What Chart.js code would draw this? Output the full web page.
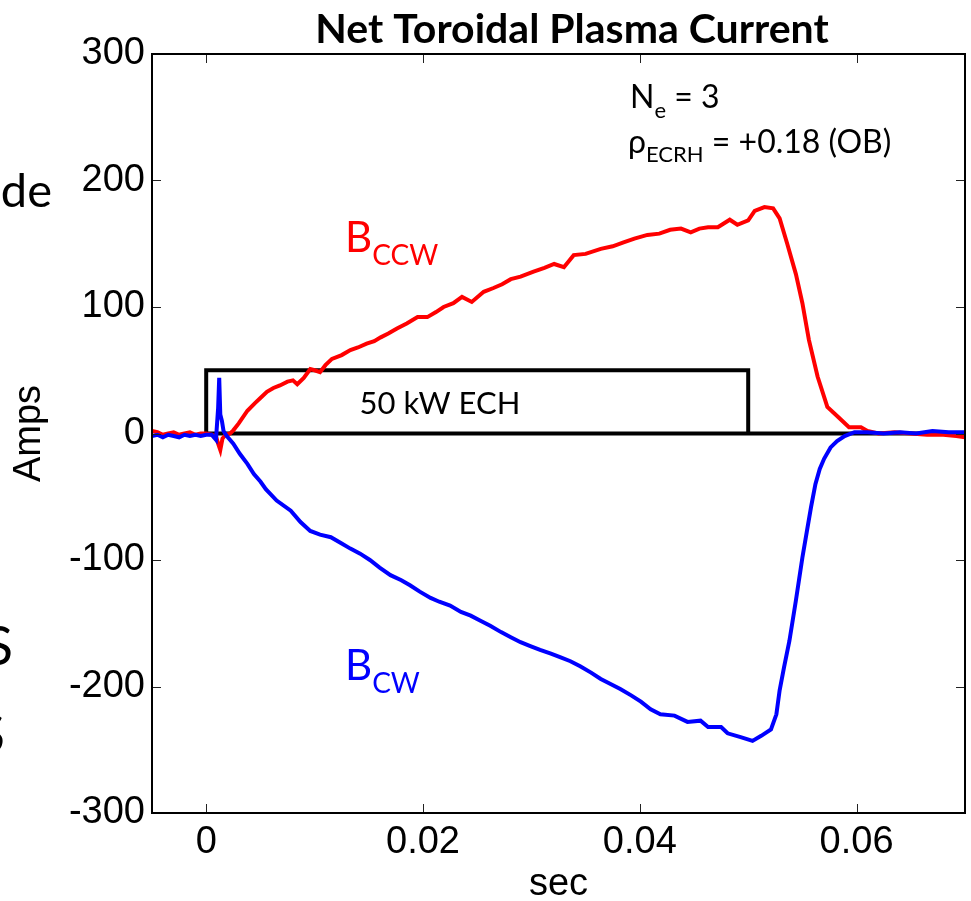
<!DOCTYPE html>
<html>
<head>
<meta charset="utf-8">
<title>Net Toroidal Plasma Current</title>
<script src="https://cdn.jsdelivr.net/npm/chart.js"></script>
<style>
    body { margin: 0; background: #ffffff; }
    canvas { display: block; }
</style>
</head>
<body>
<canvas id="currentChart" width="971" height="901"></canvas>
<script>
// tick values
const xTicks = [0, 0.02, 0.04, 0.06];
const yTicks = [-300, -200, -100, 0, 100, 200, 300];

// B_CCW shot (red)
const ccwTime = [-0.005, -0.0045, -0.004, -0.0035, -0.003, -0.0025, -0.002, -0.0015, -0.001, -0.0005,
    0, 0.0005, 0.0009, 0.0011, 0.0013, 0.0015, 0.0018, 0.0022, 0.0025, 0.003,
    0.0038, 0.0045, 0.005, 0.0056, 0.0062, 0.0068, 0.0075, 0.008, 0.0084, 0.009,
    0.0096, 0.01, 0.0105, 0.011, 0.0116, 0.0125, 0.0133, 0.014, 0.0148, 0.0155,
    0.0161, 0.0168, 0.0176, 0.0185, 0.0195, 0.0204, 0.0212, 0.0219, 0.0228, 0.0236,
    0.0245, 0.0256, 0.0265, 0.0273, 0.0281, 0.029, 0.0302, 0.0312, 0.0321, 0.033,
    0.0339, 0.035, 0.0364, 0.0375, 0.0385, 0.0395, 0.0407, 0.0418, 0.0428, 0.0438,
    0.0447, 0.0455, 0.0463, 0.0472, 0.0483, 0.049, 0.05, 0.0506, 0.0515, 0.0523,
    0.0529, 0.0536, 0.0544, 0.055, 0.0556, 0.0564, 0.0573, 0.0583, 0.0593, 0.0604,
    0.061, 0.062, 0.0635, 0.065, 0.0665, 0.068, 0.0692, 0.07];
const ccwAmps = [2, 1, -1, 0, 1, -1, 0, 1, -1, 0,
    0, -1, -2, -8, -13, -4, -1, 0, 2.5, 8,
    18, 24, 28, 33, 36, 38, 41, 42, 39, 44,
    51, 50, 48.5, 54, 59, 62, 66, 68, 71, 73,
    76, 79, 83, 87, 92, 92, 96, 100, 103, 108,
    104, 112, 115, 118, 122, 124, 128, 131, 134, 131.5,
    141, 142, 146, 148, 151, 154, 157, 158, 161, 162,
    159, 162, 163, 163, 169, 165, 168.5, 176, 179, 178,
    170, 150, 126, 103, 74, 45, 21, 13, 5, 5,
    2, 0, 1, 0, -1, -1, -2, -3];

// B_CW shot (blue)
const cwTime = [-0.005, -0.0045, -0.004, -0.0035, -0.003, -0.0025, -0.002, -0.0015, -0.001, -0.0005,
    0, 0.0005, 0.0009, 0.0011, 0.0012, 0.0013, 0.00145, 0.0016, 0.0019, 0.0025,
    0.0031, 0.0038, 0.0044, 0.005, 0.0055, 0.0065, 0.0078, 0.0087, 0.0096, 0.0105,
    0.0115, 0.0125, 0.0133, 0.0142, 0.0151, 0.016, 0.017, 0.018, 0.0188, 0.0197,
    0.0207, 0.0215, 0.0225, 0.0235, 0.0244, 0.0253, 0.0262, 0.0272, 0.0281, 0.029,
    0.0299, 0.0308, 0.0318, 0.0327, 0.0336, 0.0345, 0.0355, 0.0364, 0.0373, 0.0382,
    0.0392, 0.0401, 0.041, 0.0419, 0.0432, 0.0444, 0.0456, 0.0463, 0.0475, 0.0481,
    0.0493, 0.0504, 0.0512, 0.0521, 0.0526, 0.0529, 0.0533, 0.0538, 0.0541, 0.0544,
    0.0547, 0.055, 0.0554, 0.0558, 0.0562, 0.0566, 0.057, 0.0576, 0.0582, 0.0589,
    0.0598, 0.061, 0.0625, 0.064, 0.0655, 0.067, 0.0685, 0.07];
const cwAmps = [-2, -1, -3, -1, -2, -3, -1, -2, -1, -2,
    -1, -1, -5, 20, 44, 15, 10, 2, -2, -8,
    -16, -24, -32, -38, -44, -53, -61, -70, -77, -80,
    -82, -87, -91, -95, -100, -106, -112, -116, -120, -125,
    -130, -133, -136, -141, -144, -148, -152, -157, -161, -165,
    -168, -171, -174, -177, -180, -184, -189, -194, -198, -202,
    -207, -212, -218, -222, -223, -228, -227, -232, -232, -237,
    -240, -243, -239, -234, -222, -203, -185, -164, -148, -132,
    -115, -98, -78, -58, -40, -28, -20, -11, -6, -2,
    1, 1, 0, 1, 0, 2, 1, 1];

// ECH pulse outline (50 kW from 0 to 50 ms) and the zero line
const echTime = [0, 0, 0.05, 0.05];
const echLevel = [0, 50, 50, 0];
const zeroTime = [0, 0.07];
const zeroLevel = [0, 0];

function toPoints(xs, ys) {
    return xs.map((x, i) => ({ x: x, y: ys[i] }));
}

const tickFont = { family: '"Liberation Sans", Arial, sans-serif', size: 38 };

// plot frame with inward ticks on all four sides
const frameTicks = {
    id: 'frameTicks',
    afterDatasetsDraw(chart) {
        const ctx = chart.ctx;
        const a = chart.chartArea;
        const xs = chart.scales.x;
        const ys = chart.scales.y;
        ctx.save();
        ctx.strokeStyle = '#222';
        ctx.lineWidth = 1;
        ctx.beginPath();
        xTicks.forEach(v => {
            const px = Math.round(xs.getPixelForValue(v)) + 0.5;
            ctx.moveTo(px, a.bottom); ctx.lineTo(px, a.bottom - 9);
            ctx.moveTo(px, a.top); ctx.lineTo(px, a.top + 9);
        });
        yTicks.forEach(v => {
            const py = Math.round(ys.getPixelForValue(v)) + 0.5;
            ctx.moveTo(a.left, py); ctx.lineTo(a.left + 9, py);
            ctx.moveTo(a.right, py); ctx.lineTo(a.right - 9, py);
        });
        ctx.stroke();
        ctx.strokeStyle = '#000';
        ctx.lineWidth = 2;
        ctx.strokeRect(a.left, a.top, a.right - a.left, a.bottom - a.top);
        ctx.restore();
    }
};

// draws a run of text pieces (main text + subscripts) one after another
function drawRun(ctx, x, y, parts, color) {
    ctx.fillStyle = color;
    ctx.textAlign = 'left';
    ctx.textBaseline = 'alphabetic';
    parts.forEach(p => {
        ctx.font = p.font;
        ctx.fillText(p.text, x, y + (p.dy || 0));
        x += ctx.measureText(p.text).width;
    });
}

const textLabels = {
    id: 'textLabels',
    afterDraw(chart) {
        const ctx = chart.ctx;
        ctx.save();

        ctx.font = 'bold 41px Lato, sans-serif';
        ctx.fillStyle = '#000';
        ctx.textAlign = 'center';
        ctx.textBaseline = 'alphabetic';
        ctx.fillText('Net Toroidal Plasma Current', 572, 43);

        const big = '32px Lato, sans-serif';
        const small = '22px Lato, sans-serif';
        drawRun(ctx, 630, 108, [
            { text: 'N', font: big },
            { text: 'e', font: small, dy: 10 },
            { text: ' = 3', font: big }
        ], '#000');
        drawRun(ctx, 628, 153, [
            { text: 'ρ', font: big },
            { text: 'ECRH', font: small, dy: 9 },
            { text: ' = +0.18 (OB)', font: big }
        ], '#000');

        drawRun(ctx, 345, 252, [
            { text: 'B', font: '42px Lato, sans-serif' },
            { text: 'CCW', font: '28px Lato, sans-serif', dy: 13 }
        ], '#ff0000');
        drawRun(ctx, 345, 680, [
            { text: 'B', font: '42px Lato, sans-serif' },
            { text: 'CW', font: '28px Lato, sans-serif', dy: 13 }
        ], '#0000ff');

        ctx.font = '31px Lato, sans-serif';
        ctx.fillStyle = '#000';
        ctx.textAlign = 'center';
        ctx.fillText('50 kW ECH', 440, 414);

        // slide text cut off at the left edge
        ctx.textAlign = 'right';
        ctx.font = '47px Lato, sans-serif';
        ctx.fillText('de', 52, 207);
        ctx.font = '54px Lato, sans-serif';
        ctx.fillText('S', 13, 665);
        ctx.fillText('S', 5, 753);

        ctx.restore();
    }
};

new Chart(document.getElementById('currentChart'), {
    type: 'scatter',
    data: {
        datasets: [{
            label: 'B_CW',
            data: toPoints(cwTime, cwAmps),
            showLine: true,
            borderColor: '#0000ff',
            borderWidth: 4,
            pointRadius: 0,
            tension: 0
        }, {
            label: 'B_CCW',
            data: toPoints(ccwTime, ccwAmps),
            showLine: true,
            borderColor: '#ff0000',
            borderWidth: 4,
            pointRadius: 0,
            tension: 0
        }, {
            label: '50 kW ECH',
            data: toPoints(echTime, echLevel),
            showLine: true,
            borderColor: '#000000',
            borderWidth: 4,
            pointRadius: 0
        }, {
            label: 'zero',
            data: toPoints(zeroTime, zeroLevel),
            showLine: true,
            borderColor: '#000000',
            borderWidth: 4,
            pointRadius: 0
        }]
    },
    options: {
        responsive: false,
        animation: false,
        layout: { padding: { top: 54, right: 6, left: 0, bottom: 0 } },
        plugins: {
            legend: { display: false },
            tooltip: { enabled: false },
            title: { display: false }
        },
        scales: {
            x: {
                type: 'linear',
                min: -0.005,
                max: 0.07,
                afterBuildTicks(scale) { scale.ticks = xTicks.map(v => ({ value: v })); },
                afterFit(scale) { scale.height = 88; },
                grid: { display: false, drawTicks: false },
                border: { display: false },
                ticks: {
                    font: tickFont,
                    color: '#000',
                    padding: 7,
                    maxRotation: 0,
                    autoSkip: false,
                    callback: v => String(v)
                },
                title: {
                    display: true,
                    text: 'sec',
                    color: '#000',
                    font: { family: tickFont.family, size: 38, lineHeight: 0.85 },
                    padding: 0
                }
            },
            y: {
                type: 'linear',
                min: -300,
                max: 300,
                afterBuildTicks(scale) { scale.ticks = yTicks.map(v => ({ value: v })); },
                afterFit(scale) { scale.width = 152; },
                grid: { display: false, drawTicks: false },
                border: { display: false },
                ticks: {
                    font: tickFont,
                    color: '#000',
                    padding: 7,
                    autoSkip: false
                },
                title: {
                    display: true,
                    text: 'Amps',
                    color: '#000',
                    font: { family: tickFont.family, size: 38, lineHeight: 1.2 },
                    padding: { top: 7, bottom: 0 }
                }
            }
        }
    },
    plugins: [frameTicks, textLabels]
});
</script>
</body>
</html>
